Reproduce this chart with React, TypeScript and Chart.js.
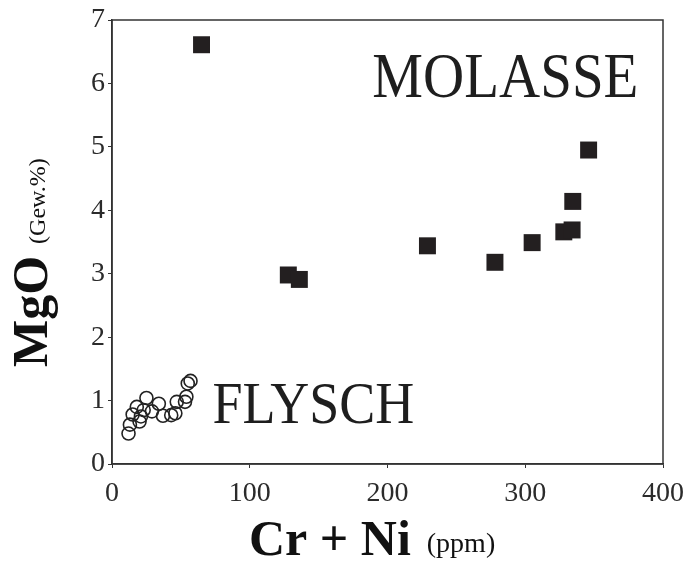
import React, { useEffect, useRef } from "react";
import { Chart, registerables } from "chart.js";

Chart.register(...registerables);

const molasseX = [65, 128, 136, 229, 278, 305, 328, 334, 334.5, 346];
const molasseY = [6.61, 2.98, 2.91, 3.44, 3.18, 3.49, 3.66, 3.69, 4.14, 4.95];

const flyschX = [12, 13, 15, 18, 21, 20, 25, 23, 29, 34, 37, 43, 46, 47, 53, 54, 55, 57];
const flyschY = [0.48, 0.62, 0.78, 0.9, 0.75, 0.67, 1.04, 0.85, 0.83, 0.95, 0.76, 0.77, 0.8, 0.98, 0.98, 1.06, 1.27, 1.31];

const xTicks = [0, 100, 200, 300, 400];
const yTicks = [0, 1, 2, 3, 4, 5, 6, 7];

const groupLabels = ["MOLASSE", "FLYSCH"];
const groupLabelX = [189, 73];
const groupLabelY = [5.79, 0.65];
const groupLabelSize = [57, 54];

const xTitleMain = "Cr + Ni";
const xTitleUnit = "(ppm)";
const yTitleMain = "MgO";
const yTitleUnit = "(Gew.%)";

const SERIF = "'Liberation Serif', 'Times New Roman', serif";

const textPlugin = {
  id: "textPlugin",
  afterDraw(chart: any) {
    const { ctx, chartArea, scales } = chart;
    ctx.save();
    // frame
    ctx.strokeStyle = "#333";
    ctx.lineWidth = 1.5;
    ctx.strokeRect(chartArea.left, chartArea.top, chartArea.right - chartArea.left, chartArea.bottom - chartArea.top);

    // group labels
    ctx.fillStyle = "#1e1e1e";
    ctx.textAlign = "left";
    ctx.textBaseline = "alphabetic";
    for (let i = 0; i < groupLabels.length; i++) {
      ctx.font = `${groupLabelSize[i]}px ${SERIF}`;
      const px = scales.x.getPixelForValue(groupLabelX[i]);
      const py = scales.y.getPixelForValue(groupLabelY[i]);
      ctx.save();
      ctx.translate(px, py);
      ctx.scale(1, 1.1);
      ctx.fillText(groupLabels[i], 0, 0);
      ctx.restore();
    }

    // x title
    ctx.fillStyle = "#111";
    ctx.font = `bold 50px ${SERIF}`;
    const xStart = 249;
    const xBase = 555;
    ctx.fillText(xTitleMain, xStart, xBase);
    const w1 = ctx.measureText(xTitleMain).width;
    ctx.font = `28px ${SERIF}`;
    ctx.fillText(xTitleUnit, xStart + w1 + 16, xBase - 3);

    // y title
    ctx.save();
    ctx.translate(47, 367);
    ctx.rotate(-Math.PI / 2);
    ctx.font = `bold 50px ${SERIF}`;
    ctx.fillText(yTitleMain, 0, 0);
    const w2 = ctx.measureText(yTitleMain).width;
    ctx.font = `24px ${SERIF}`;
    ctx.fillText(yTitleUnit, w2 + 12, -2);
    ctx.restore();

    ctx.restore();
  },
};

export default function App() {
  const ref = useRef<HTMLCanvasElement | null>(null);
  useEffect(() => {
    if (!ref.current) return;
    Chart.defaults.font.family = SERIF;
    const chart = new Chart(ref.current, {
      type: "scatter",
      data: {
        datasets: [
          {
            label: "Molasse",
            data: molasseX.map((x, i) => ({ x, y: molasseY[i] })),
            pointStyle: "rect",
            pointRadius: 12,
            backgroundColor: "#231f20",
            borderColor: "#231f20",
            borderWidth: 0,
          },
          {
            label: "Flysch",
            data: flyschX.map((x, i) => ({ x, y: flyschY[i] })),
            pointStyle: "circle",
            pointRadius: 6.5,
            backgroundColor: "rgba(255,255,255,0)",
            borderColor: "#222",
            borderWidth: 1.6,
          },
        ],
      },
      options: {
        responsive: false,
        animation: false,
        layout: { padding: { left: 0, top: 20, right: 26, bottom: 0 } },
        plugins: { legend: { display: false }, tooltip: { enabled: false } },
        scales: {
          x: {
            type: "linear",
            min: 0,
            max: 400,
            afterFit: (s: any) => {
              s.height = 102;
              s.paddingLeft = 0;
              s.paddingRight = 0;
            },
            afterBuildTicks: (s: any) => {
              s.ticks = xTicks.map((v) => ({ value: v }));
            },
            ticks: { color: "#2b2b2b", font: { size: 28, family: SERIF }, padding: 9, maxRotation: 0 },
            grid: { display: true, drawOnChartArea: false, drawTicks: true, tickLength: 4, color: "#333" },
            border: { display: true, color: "#333", width: 1.5 },
          },
          y: {
            type: "linear",
            min: 0,
            max: 7,
            afterFit: (s: any) => {
              s.width = 112;
              s.paddingTop = 0;
              s.paddingBottom = 0;
            },
            afterBuildTicks: (s: any) => {
              s.ticks = yTicks.map((v) => ({ value: v }));
            },
            ticks: { color: "#2b2b2b", font: { size: 28, family: SERIF }, padding: 3 },
            grid: { display: true, drawOnChartArea: false, drawTicks: true, tickLength: 4, color: "#333" },
            border: { display: true, color: "#333", width: 1.5 },
          },
        },
      },
      plugins: [textPlugin],
    });
    return () => chart.destroy();
  }, []);
  return (
    <div style={{ position: "fixed", left: 0, top: 0, width: 689, height: 566, background: "#fff" }}>
      <canvas ref={ref} width={689} height={566} />
    </div>
  );
}
